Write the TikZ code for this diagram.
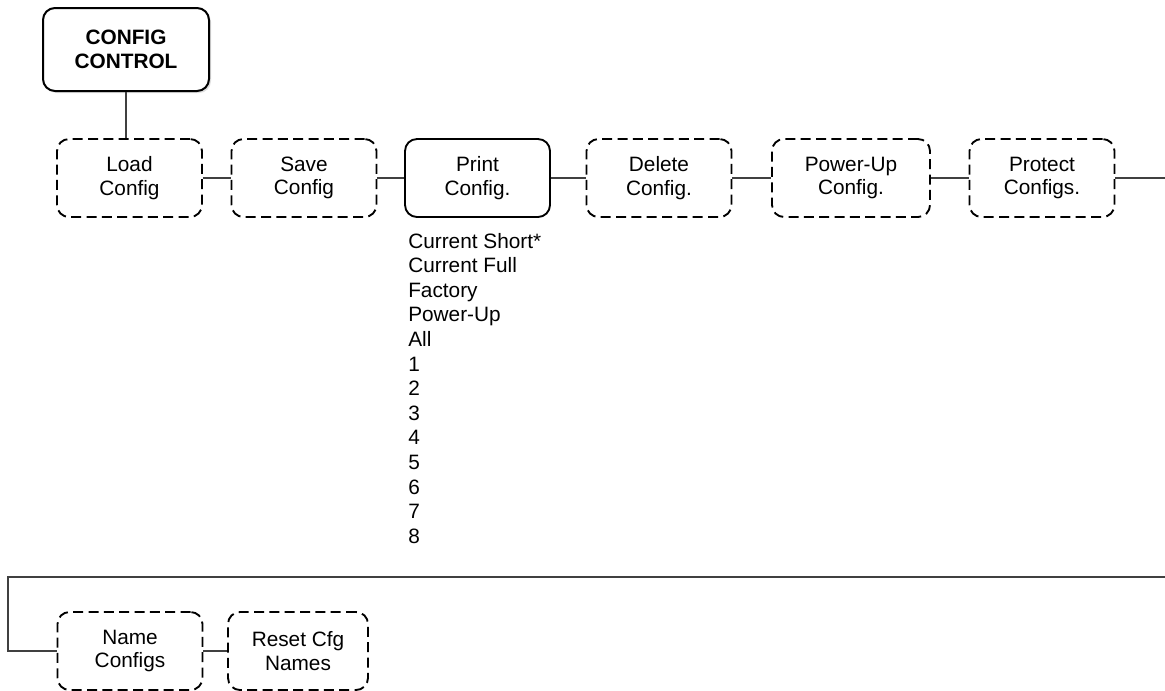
\documentclass[tikz,border=0pt]{standalone}
\usepackage{fontspec}
\setmainfont{Liberation Sans}
\usetikzlibrary{shadows}

\tikzset{
  menubox/.style={draw, rounded corners=9pt, line width=1.4pt, minimum width=108.75pt,
    minimum height=58.5pt, align=center, inner sep=2pt, font=\fontsize{15.6}{17.5}\selectfont},
  optbox/.style={menubox, dash pattern=on 7.5pt off 4pt},
  link/.style={black!75, line width=0.8pt},
  listitem/.style={anchor=base west, inner sep=0pt, font=\fontsize{15.6}{18}\selectfont},
}

\begin{document}
\begin{tikzpicture}[x=0.75pt, y=-0.75pt]
  \useasboundingbox (0,0) rectangle (1165,690);

  % top of the menu
  \node[menubox, fill=white, line width=1.5pt, minimum width=124.5pt, minimum height=62.25pt,
        font=\fontsize{15.6}{18.5}\selectfont\bfseries,
        drop shadow={opacity=0.25, shadow xshift=1.5pt, shadow yshift=-1.5pt}] (cc) at (126,49.5) {CONFIG\\CONTROL};

  % first row
  \node[optbox] (load) at (129.5,178) {Load\\Config};
  \node[optbox] (save) at (304,178) {Save\\Config};
  \node[menubox] (print) at (477.5,178) {Print\\Config.};
  \node[optbox] (delete) at (659,178) {Delete\\Config.};
  \node[optbox, minimum width=118.5pt] (powerup) at (851,178) {Power-Up\\Config.};
  \node[optbox] (protect) at (1042,178) {Protect\\Configs.};

  % second row
  \node[optbox] (name) at (130,651) {Name\\Configs};
  \node[optbox, minimum width=105pt] (reset) at (298,651) {Reset Cfg\\Names};

  % options of Print Config.
  \foreach \t [count=\i] in {Current Short*, Current Full, Factory, Power-Up, All, 1, 2, 3, 4, 5, 6, 7, 8}
    \node[listitem] (opt\i) at (408, {248+24.6*(\i-1)}) {\t};

  \coordinate (outR) at (1165,178);
  \coordinate (inR) at (1165,577);
  \coordinate (inL) at (8,577);

  \draw[link] (cc.south) -- (cc.south |- load.north);
  \draw[link] (load) -- (save);
  \draw[link] (save) -- (print);
  \draw[link] (print) -- (delete);
  \draw[link] (delete) -- (powerup);
  \draw[link] (powerup) -- (protect);
  \draw[link] (protect) -- (outR);
  \draw[link] (inR) -- (inL) |- (name.west);
  \draw[link] (name) -- (reset);
\end{tikzpicture}
\end{document}
